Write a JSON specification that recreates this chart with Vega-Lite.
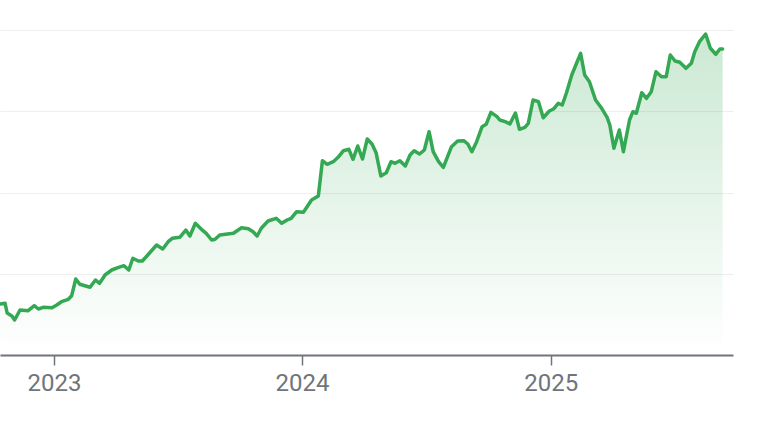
{
  "$schema": "https://vega.github.io/schema/vega-lite/v6.json",
  "width": 733,
  "height": 325,
  "autosize": {"type": "none"},
  "padding": {"left": 0, "top": 30, "right": 35, "bottom": 75},
  "background": "white",
  "config": {
    "view": {"stroke": null},
    "font": "Roboto"
  },
  "data": {
    "values": [
      {"date": "2022-10-14", "price": 31.38},
      {"date": "2022-10-21", "price": 31.82},
      {"date": "2022-10-24", "price": 25.85},
      {"date": "2022-10-31", "price": 24.0},
      {"date": "2022-11-04", "price": 21.54},
      {"date": "2022-11-12", "price": 27.69},
      {"date": "2022-11-24", "price": 27.26},
      {"date": "2022-12-03", "price": 30.34},
      {"date": "2022-12-09", "price": 28.31},
      {"date": "2022-12-16", "price": 29.35},
      {"date": "2022-12-29", "price": 29.11},
      {"date": "2023-01-05", "price": 30.77},
      {"date": "2023-01-12", "price": 32.8},
      {"date": "2023-01-22", "price": 34.28},
      {"date": "2023-01-27", "price": 36.49},
      {"date": "2023-02-02", "price": 46.77},
      {"date": "2023-02-08", "price": 43.51},
      {"date": "2023-02-23", "price": 41.66},
      {"date": "2023-03-03", "price": 46.15},
      {"date": "2023-03-09", "price": 44.12},
      {"date": "2023-03-14", "price": 47.2},
      {"date": "2023-03-17", "price": 49.23},
      {"date": "2023-03-27", "price": 52.31},
      {"date": "2023-04-05", "price": 53.72},
      {"date": "2023-04-14", "price": 54.95},
      {"date": "2023-04-21", "price": 52.31},
      {"date": "2023-04-27", "price": 59.51},
      {"date": "2023-05-05", "price": 57.85},
      {"date": "2023-05-11", "price": 57.85},
      {"date": "2023-05-19", "price": 61.54},
      {"date": "2023-06-01", "price": 67.69},
      {"date": "2023-06-10", "price": 65.23},
      {"date": "2023-06-18", "price": 69.72},
      {"date": "2023-06-24", "price": 71.82},
      {"date": "2023-07-05", "price": 72.43},
      {"date": "2023-07-14", "price": 76.92},
      {"date": "2023-07-20", "price": 73.23},
      {"date": "2023-07-28", "price": 81.05},
      {"date": "2023-08-06", "price": 77.35},
      {"date": "2023-08-13", "price": 74.89},
      {"date": "2023-08-21", "price": 70.77},
      {"date": "2023-08-26", "price": 71.2},
      {"date": "2023-09-02", "price": 73.85},
      {"date": "2023-09-22", "price": 74.89},
      {"date": "2023-10-04", "price": 78.34},
      {"date": "2023-10-14", "price": 77.72},
      {"date": "2023-10-21", "price": 75.88},
      {"date": "2023-10-27", "price": 73.23},
      {"date": "2023-11-02", "price": 77.97},
      {"date": "2023-11-12", "price": 82.46},
      {"date": "2023-11-24", "price": 84.12},
      {"date": "2023-12-02", "price": 81.05},
      {"date": "2023-12-10", "price": 83.08},
      {"date": "2023-12-16", "price": 84.12},
      {"date": "2023-12-24", "price": 88.18},
      {"date": "2024-01-03", "price": 87.82},
      {"date": "2024-01-06", "price": 89.66},
      {"date": "2024-01-15", "price": 95.38},
      {"date": "2024-01-25", "price": 97.85},
      {"date": "2024-01-31", "price": 119.57},
      {"date": "2024-02-07", "price": 117.35},
      {"date": "2024-02-16", "price": 118.95},
      {"date": "2024-02-23", "price": 121.66},
      {"date": "2024-03-02", "price": 125.72},
      {"date": "2024-03-10", "price": 126.58},
      {"date": "2024-03-16", "price": 120.43},
      {"date": "2024-03-23", "price": 128.62},
      {"date": "2024-03-30", "price": 120.62},
      {"date": "2024-04-06", "price": 132.92},
      {"date": "2024-04-13", "price": 129.85},
      {"date": "2024-04-19", "price": 124.49},
      {"date": "2024-04-26", "price": 110.15},
      {"date": "2024-05-04", "price": 112.18},
      {"date": "2024-05-11", "price": 118.95},
      {"date": "2024-05-17", "price": 117.97},
      {"date": "2024-05-24", "price": 119.57},
      {"date": "2024-06-01", "price": 116.31},
      {"date": "2024-06-08", "price": 123.08},
      {"date": "2024-06-14", "price": 125.72},
      {"date": "2024-06-22", "price": 123.69},
      {"date": "2024-06-29", "price": 126.15},
      {"date": "2024-07-06", "price": 137.42},
      {"date": "2024-07-12", "price": 125.11},
      {"date": "2024-07-20", "price": 118.95},
      {"date": "2024-07-27", "price": 115.51},
      {"date": "2024-08-08", "price": 128.18},
      {"date": "2024-08-17", "price": 131.69},
      {"date": "2024-08-26", "price": 131.88},
      {"date": "2024-09-01", "price": 129.85},
      {"date": "2024-09-07", "price": 125.11},
      {"date": "2024-09-14", "price": 131.26},
      {"date": "2024-09-22", "price": 140.49},
      {"date": "2024-09-28", "price": 141.97},
      {"date": "2024-10-05", "price": 149.35},
      {"date": "2024-10-14", "price": 146.65},
      {"date": "2024-10-18", "price": 144.62},
      {"date": "2024-10-26", "price": 143.57},
      {"date": "2024-11-02", "price": 142.15},
      {"date": "2024-11-10", "price": 148.92},
      {"date": "2024-11-16", "price": 138.89},
      {"date": "2024-11-24", "price": 140.12},
      {"date": "2024-11-29", "price": 142.58},
      {"date": "2024-12-06", "price": 156.92},
      {"date": "2024-12-14", "price": 155.88},
      {"date": "2024-12-21", "price": 146.03},
      {"date": "2024-12-30", "price": 150.15},
      {"date": "2025-01-05", "price": 151.38},
      {"date": "2025-01-12", "price": 154.89},
      {"date": "2025-01-18", "price": 153.85},
      {"date": "2025-01-24", "price": 161.05},
      {"date": "2025-02-01", "price": 172.31},
      {"date": "2025-02-07", "price": 178.46},
      {"date": "2025-02-14", "price": 185.66},
      {"date": "2025-02-20", "price": 172.31},
      {"date": "2025-02-27", "price": 168.18},
      {"date": "2025-03-08", "price": 156.92},
      {"date": "2025-03-17", "price": 151.82},
      {"date": "2025-03-25", "price": 146.28},
      {"date": "2025-03-29", "price": 141.54},
      {"date": "2025-04-04", "price": 127.2},
      {"date": "2025-04-12", "price": 138.46},
      {"date": "2025-04-18", "price": 125.11},
      {"date": "2025-04-27", "price": 144.62},
      {"date": "2025-05-02", "price": 149.72},
      {"date": "2025-05-07", "price": 148.74},
      {"date": "2025-05-15", "price": 161.42},
      {"date": "2025-05-22", "price": 157.97},
      {"date": "2025-05-29", "price": 162.03},
      {"date": "2025-06-05", "price": 174.34},
      {"date": "2025-06-13", "price": 171.26},
      {"date": "2025-06-20", "price": 171.26},
      {"date": "2025-06-26", "price": 184.62},
      {"date": "2025-07-03", "price": 180.92},
      {"date": "2025-07-10", "price": 180.12},
      {"date": "2025-07-19", "price": 176.43},
      {"date": "2025-07-27", "price": 179.51},
      {"date": "2025-08-01", "price": 186.65},
      {"date": "2025-08-08", "price": 192.8},
      {"date": "2025-08-17", "price": 197.54},
      {"date": "2025-08-24", "price": 188.74},
      {"date": "2025-09-01", "price": 185.05},
      {"date": "2025-09-07", "price": 188.31},
      {"date": "2025-09-11", "price": 188.31}
    ]
  },
  "encoding": {
    "x": {
      "field": "date",
      "type": "temporal",
      "scale": {"domain": [{"year": 2022, "month": 10, "date": 13, "hours": 12}, {"year": 2025, "month": 9, "date": 26, "hours": 7}]},
      "axis": {
        "title": null,
        "format": "%Y",
        "values": [{"year": 2023, "month": 1, "date": 1}, {"year": 2024, "month": 1, "date": 1}, {"year": 2025, "month": 1, "date": 1}],
        "grid": false,
        "domainColor": "#70757a",
        "domainWidth": 2,
        "tickColor": "#70757a",
        "tickWidth": 1.5,
        "tickSize": 10,
        "labelColor": "#70757a",
        "labelFontSize": 24,
        "labelFont": "Roboto",
        "labelPadding": 6,
        "labelFlush": false
      }
    },
    "y": {
      "field": "price",
      "type": "quantitative",
      "scale": {"domain": [0, 200], "zero": false, "nice": false},
      "axis": {
        "title": null,
        "labels": false,
        "ticks": false,
        "domain": false,
        "values": [50, 100, 150, 200],
        "gridColor": "#eeeeee",
        "gridWidth": 1.2
      }
    }
  },
  "layer": [
    {
      "mark": {
        "type": "area",
        "line": false,
        "fill": {
          "gradient": "linear",
          "x1": 0, "y1": 0, "x2": 0, "y2": 1,
          "stops": [
            {"offset": 0, "color": "rgba(52,168,83,0.26)"},
            {"offset": 1, "color": "rgba(52,168,83,0)"}
          ]
        }
      }
    },
    {
      "mark": {"type": "line", "color": "#34a853", "strokeWidth": 3.5, "strokeJoin": "round", "strokeCap": "round"}
    }
  ]
}
